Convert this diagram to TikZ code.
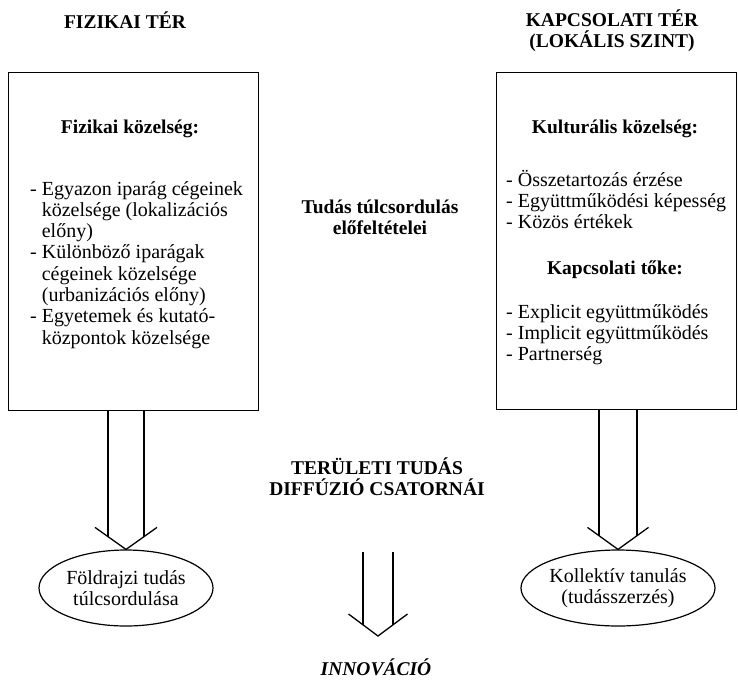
\documentclass[tikz,border=0pt]{standalone}
\usepackage{fontspec}
\setmainfont{Liberation Serif}
\usetikzlibrary{calc,shapes.geometric}
\newcommand\hollowarrow[5]{%
  \draw[arr] ($(#2 |- #1)+(-#3,0)$) -- ($(#2)+(-#3,{-#5*#3/#4})$);
  \draw[arr] ($(#2 |- #1)+(#3,0)$) -- ($(#2)+(#3,{-#5*#3/#4})$);
  \draw[arr] ($(#2)+(-#4,-#5)$) -- (#2) -- ($(#2)+(#4,-#5)$);
}
\begin{document}
\begin{tikzpicture}[x=1pt,y=-1pt,
  every node/.style={font=\fontsize{20}{21.3}\selectfont, inner sep=0pt},
  box/.style={draw, line width=1.4pt, rectangle, anchor=north west},
  head/.style={font=\fontsize{19.5}{21.3}\selectfont\bfseries, align=center},
  lst/.style={anchor=base west},
  ell/.style={draw, ellipse, line width=1.2pt, align=center, minimum height=76pt},
  arr/.style={line width=1.3pt}]
\useasboundingbox (0,0) rectangle (738,680);
% titles
\node[head] (t1) at (125,20) {FIZIKAI TÉR};
\node[head] (t2) at (612,31) {KAPCSOLATI TÉR\\(LOKÁLIS SZINT)};
% boxes
\node[box, minimum width=250pt, minimum height=338pt] (lbox) at (8,72) {};
\node[box, minimum width=240pt, minimum height=337pt] (rbox) at (496,72) {};
% left box content
\node[head, anchor=base] (fk) at (130,133) {Fizikai közelség:};
\foreach \t [count=\i] in {{- Egyazon iparág cégeinek},{\phantom{- }közelsége (lokalizációs},{\phantom{- }előny)},{- Különböző iparágak},{\phantom{- }cégeinek közelsége},{\phantom{- }(urbanizációs előny)},{- Egyetemek és kutató-},{\phantom{- }központok közelsége}}
  \node[lst, name=fl\i] at (30,{195+21.3*(\i-1)}) {\t};
% right box content
\node[head, anchor=base] (kk) at (615,133) {Kulturális közelség:};
\foreach \t [count=\i] in {{- Összetartozás érzése},{- Együttműködési képesség},{- Közös értékek}}
  \node[lst, name=kl\i] at (506,{186+21.3*(\i-1)}) {\t};
\node[head, anchor=base] (kt) at (615,274) {Kapcsolati tőke:};
\foreach \t [count=\i] in {{- Explicit együttműködés},{- Implicit együttműködés},{- Partnerség}}
  \node[lst, name=pl\i] at (506,{318+21.3*(\i-1)}) {\t};
% centre texts
\node[head] (pre) at (380,217) {Tudás túlcsordulás\\előfeltételei};
\node[head] (diff) at (377,477) {TERÜLETI TUDÁS\\DIFFÚZIÓ CSATORNÁI};
% ellipses
\node[ell, minimum width=174pt] (lell) at (126,588) {Földrajzi tudás\\túlcsordulása};
\node[ell, minimum width=168pt] (rell) at (618,588) {Kollektív tanulás\\(tudásszerzés)};
% innovation
\node[font=\fontsize{19.5}{21.3}\selectfont\bfseries\itshape, anchor=base] (inno) at (376,675) {INNOVÁCIÓ};
\coordinate (mtop) at (378,552);
\coordinate (mtip) at (378,636);
% arrows
\hollowarrow{lbox.south}{lell.north}{18}{31}{22}
\hollowarrow{rbox.south}{rell.north}{19}{30.5}{22}
\hollowarrow{mtop}{mtip}{15}{29.5}{22}
\end{tikzpicture}
\end{document}
